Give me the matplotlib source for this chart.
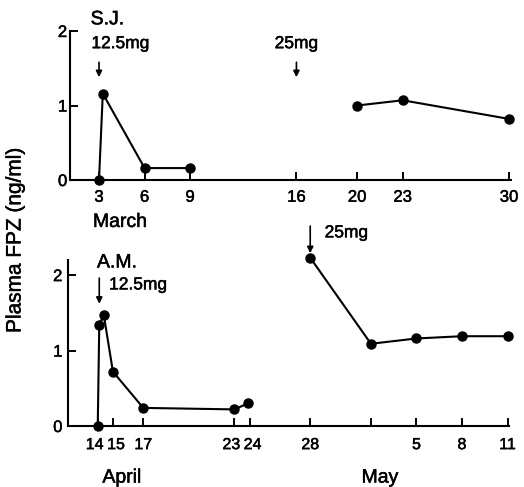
import matplotlib
matplotlib.use("Agg")
import matplotlib.pyplot as plt
import matplotlib.patheffects as pe
from matplotlib.transforms import ScaledTranslation

plt.rcParams['font.family'] = ['Liberation Sans', 'DejaVu Sans']
thick = [pe.withStroke(linewidth=0.35, foreground='black')]

# ---- data ----
sj_days_a = [3, 3.25, 6, 9]
sj_vals_a = [0, 1.16, 0.16, 0.16]
sj_days_b = [20, 23, 30]
sj_vals_b = [1.0, 1.07, 0.82]
sj_ticks = [3, 6, 9, 16, 20, 23, 30]
sj_ticklabels = ['3', '6', '9', '16', '20', '23', '30']

am_days_a = [14, 14.1, 14.4, 15, 17, 23, 23.9]
am_vals_a = [0, 1.34, 1.47, 0.72, 0.24, 0.22, 0.30]
am_days_b = [28, 32, 35, 38, 41]
am_vals_b = [2.23, 1.09, 1.16, 1.19, 1.19]
am_ticks = [14, 15, 17, 23, 24, 28, 32, 35, 38, 41]
am_ticklabels = ['14', '15', '17', '23', '24', '28', '', '5', '8', '11']

fig = plt.figure(figsize=(5.24, 4.87), dpi=100)
W, H = 524, 487

def px_axes(x0, x1, y_top, y_bot):
    return fig.add_axes([x0 / W, (H - y_bot) / H, (x1 - x0) / W, (y_bot - y_top) / H])

line_kw = dict(color='black', lw=1.5, marker='o', ms=6.5, mfc='black', mec='black', clip_on=False, zorder=5)
arrow_kw = dict(arrowstyle='-|>', color='black', lw=1.2, mutation_scale=9, shrinkA=0, shrinkB=0)

def style(ax, xsize):
    for s in ['top', 'right']:
        ax.spines[s].set_visible(False)
    for s in ['left', 'bottom']:
        ax.spines[s].set_linewidth(1.5)
    ax.tick_params(axis='both', direction='in', length=6, width=1.4, labelsize=12)
    ax.tick_params(axis='x', labelsize=xsize)
    for lab in ax.get_xticklabels() + ax.get_yticklabels():
        lab.set_path_effects(thick)

def txt(ax, x, y, s, size, **kw):
    t = ax.text(x, y, s, fontsize=size, clip_on=False, **kw)
    t.set_path_effects(thick)
    return t

# ---- top panel (S.J.) ----
ax1 = px_axes(70, 511, 31, 180)
ax1.plot(sj_days_a, sj_vals_a, **line_kw)
ax1.plot(sj_days_b, sj_vals_b, **line_kw)
ax1.set_xlim(1.09, 30.13)
ax1.set_ylim(0, 2)
ax1.set_xticks(sj_ticks)
ax1.set_xticklabels(sj_ticklabels)
ax1.set_yticks([0, 1, 2])
ax1.set_yticklabels(['0', '1', '2'])
style(ax1, 12)
ax1.tick_params(axis='x', pad=7)
ax1.tick_params(axis='y', pad=2)
txt(ax1, 2.45, 2.15, 'S.J.', 14, ha='left', va='center')
txt(ax1, 2.5, 1.83, '12.5mg', 12.5, ha='left', va='center')
ax1.annotate('', xy=(3, 1.38), xytext=(3, 1.58), arrowprops=arrow_kw)
txt(ax1, 16, 1.83, '25mg', 12.5, ha='center', va='center')
ax1.annotate('', xy=(16, 1.38), xytext=(16, 1.58), arrowprops=arrow_kw)
txt(ax1, 2.6, -0.57, 'March', 14, ha='left', va='center')

# ---- bottom panel (A.M.) ----
ax2 = px_axes(68, 509.5, 260, 426)
ax2.plot(am_days_a, am_vals_a, **line_kw)
ax2.plot(am_days_b, am_vals_b, **line_kw)
ax2.set_xlim(12.04, 41.13)
ax2.set_ylim(0, 2.2)
ax2.set_xticks(am_ticks)
ax2.set_xticklabels(am_ticklabels)
ax2.set_yticks([0, 1, 2])
ax2.set_yticklabels(['0', '1', '2'])
style(ax2, 11.5)
ax2.tick_params(axis='x', pad=8)
ax2.tick_params(axis='y', pad=4)
# nudge the crowded neighbouring labels apart
nudges = {0: -2.2, 1: 2.2, 3: -2.2, 4: 2.2}
for i, lab in enumerate(ax2.get_xticklabels()):
    if i in nudges:
        lab.set_transform(lab.get_transform() +
                          ScaledTranslation(nudges[i] / 72, 0, fig.dpi_scale_trans))
txt(ax2, 13.95, 2.16, 'A.M.', 14, ha='left', va='center')
txt(ax2, 14.75, 1.87, '12.5mg', 12.5, ha='left', va='center')
ax2.annotate('', xy=(14.1, 1.62), xytext=(14.1, 1.96), arrowprops=arrow_kw)
txt(ax2, 28.95, 2.56, '25mg', 12.5, ha='left', va='center')
ax2.annotate('', xy=(28, 2.29), xytext=(28, 2.65), arrowprops=arrow_kw, annotation_clip=False)
txt(ax2, 15.6, -0.69, 'April', 14, ha='center', va='center')
txt(ax2, 32.6, -0.69, 'May', 14, ha='center', va='center')

yl = fig.text(15 / W, (H - 240) / H, 'Plasma FPZ (ng/ml)', rotation=90, fontsize=15,
              ha='center', va='center')
yl.set_path_effects(thick)

fig.savefig('out.png', dpi=100)
